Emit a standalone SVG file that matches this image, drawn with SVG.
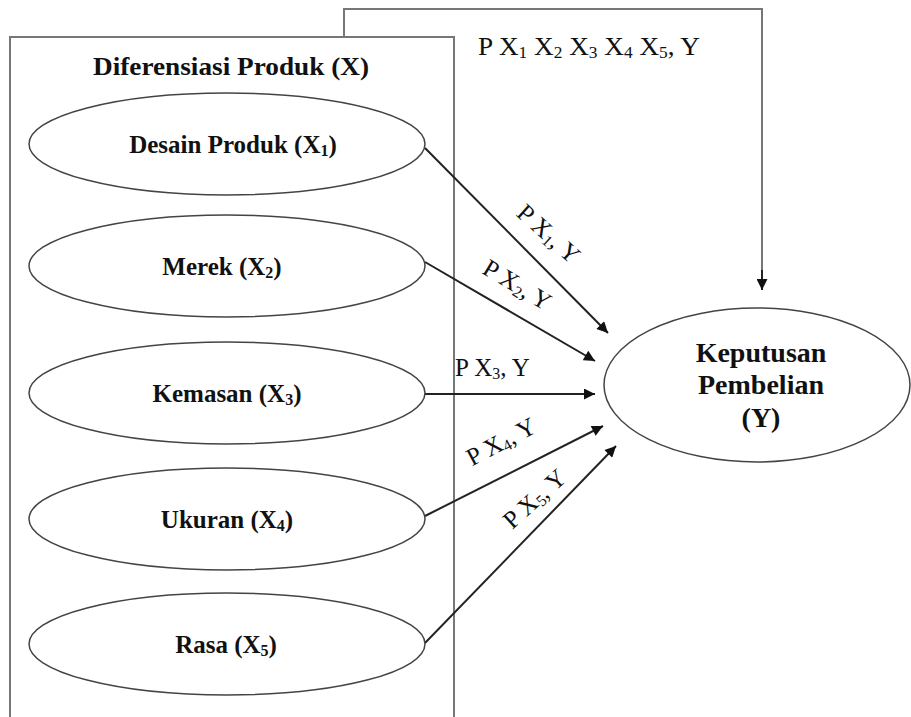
<svg xmlns="http://www.w3.org/2000/svg" width="911" height="717" viewBox="0 0 911 717">
<style>
text{font-family:"Liberation Serif","Times New Roman",serif;fill:#111}
.b{font-weight:bold;font-size:25px}
.t{font-weight:bold;font-size:26px}
.y{font-weight:bold;font-size:28px}
.l{font-size:25px}
.s{font-size:16px}
.node ellipse{fill:#fff;stroke:#444;stroke-width:1.5}
.frame{fill:none;stroke:#777;stroke-width:2}
.edge{fill:none;stroke:#222;stroke-width:2}
</style>
<defs>
<marker id="ah" viewBox="0 0 10 10" refX="10" refY="5" markerWidth="12" markerHeight="11" markerUnits="userSpaceOnUse" orient="auto"><path d="M0,0 L10,5 L0,10 z" fill="#111"/></marker>
</defs>
<rect width="911" height="717" fill="#fff"/>
<g id="group-X">
<rect class="frame" x="10" y="37" width="444" height="700"/>
<text class="t" x="231" y="75" text-anchor="middle" textLength="276" lengthAdjust="spacingAndGlyphs">Diferensiasi Produk (X)</text>
</g>
<g id="connectors">
<path class="frame" d="M344,37 V9 H762 V270" stroke="#444"/>
<path class="edge" d="M762,270 V290" marker-end="url(#ah)"/>
<path class="edge" d="M425,148 L608,333" marker-end="url(#ah)"/>
<path class="edge" d="M425,262 L595,361" marker-end="url(#ah)"/>
<path class="edge" d="M425,394 L595,394" marker-end="url(#ah)"/>
<path class="edge" d="M425,516 L603,426" marker-end="url(#ah)"/>
<path class="edge" d="M425,643 L616,446" marker-end="url(#ah)"/>
<text class="l" x="478" y="55" textLength="222" lengthAdjust="spacingAndGlyphs">P X<tspan class="s" dy="3">1</tspan><tspan dy="-3"> X</tspan><tspan class="s" dy="3">2</tspan><tspan dy="-3"> X</tspan><tspan class="s" dy="3">3</tspan><tspan dy="-3"> X</tspan><tspan class="s" dy="3">4</tspan><tspan dy="-3"> X</tspan><tspan class="s" dy="3">5</tspan><tspan dy="-3">, Y</tspan></text>
<text class="l" text-anchor="middle" transform="translate(543,240) rotate(42)">P X<tspan class="s" dy="3">1</tspan><tspan dy="-3">, Y</tspan></text>
<text class="l" text-anchor="middle" transform="translate(513,292) rotate(31)">P X<tspan class="s" dy="3">2</tspan><tspan dy="-3">, Y</tspan></text>
<text class="l" x="455" y="376">P X<tspan class="s" dy="3">3</tspan><tspan dy="-3">, Y</tspan></text>
<text class="l" text-anchor="middle" transform="translate(505,449) rotate(-28)">P X<tspan class="s" dy="3">4</tspan><tspan dy="-3">, Y</tspan></text>
<text class="l" text-anchor="middle" transform="translate(540,505) rotate(-42)">P X<tspan class="s" dy="3">5</tspan><tspan dy="-3">, Y</tspan></text>
</g>
<g id="X1" class="node">
<ellipse cx="227" cy="144" rx="198" ry="51"/>
<text class="b" x="233" y="153" text-anchor="middle">Desain Produk (X<tspan class="s" dy="3">1</tspan><tspan dy="-3">)</tspan></text>
</g>
<g id="X2" class="node">
<ellipse cx="227" cy="266" rx="198" ry="51"/>
<text class="b" x="222" y="275" text-anchor="middle">Merek (X<tspan class="s" dy="3">2</tspan><tspan dy="-3">)</tspan></text>
</g>
<g id="X3" class="node">
<ellipse cx="227" cy="393" rx="198" ry="51"/>
<text class="b" x="227" y="402" text-anchor="middle">Kemasan (X<tspan class="s" dy="3">3</tspan><tspan dy="-3">)</tspan></text>
</g>
<g id="X4" class="node">
<ellipse cx="227" cy="519" rx="198" ry="51"/>
<text class="b" x="227" y="528" text-anchor="middle">Ukuran (X<tspan class="s" dy="3">4</tspan><tspan dy="-3">)</tspan></text>
</g>
<g id="X5" class="node">
<ellipse cx="227" cy="644" rx="198" ry="51"/>
<text class="b" x="226" y="653" text-anchor="middle">Rasa (X<tspan class="s" dy="3">5</tspan><tspan dy="-3">)</tspan></text>
</g>
<g id="Y" class="node">
<ellipse cx="757" cy="385" rx="153" ry="77"/>
<text class="y" x="761" y="362" text-anchor="middle">Keputusan</text>
<text class="y" x="761" y="394" text-anchor="middle">Pembelian</text>
<text class="y" x="761" y="427" text-anchor="middle">(Y)</text>
</g>
</svg>
